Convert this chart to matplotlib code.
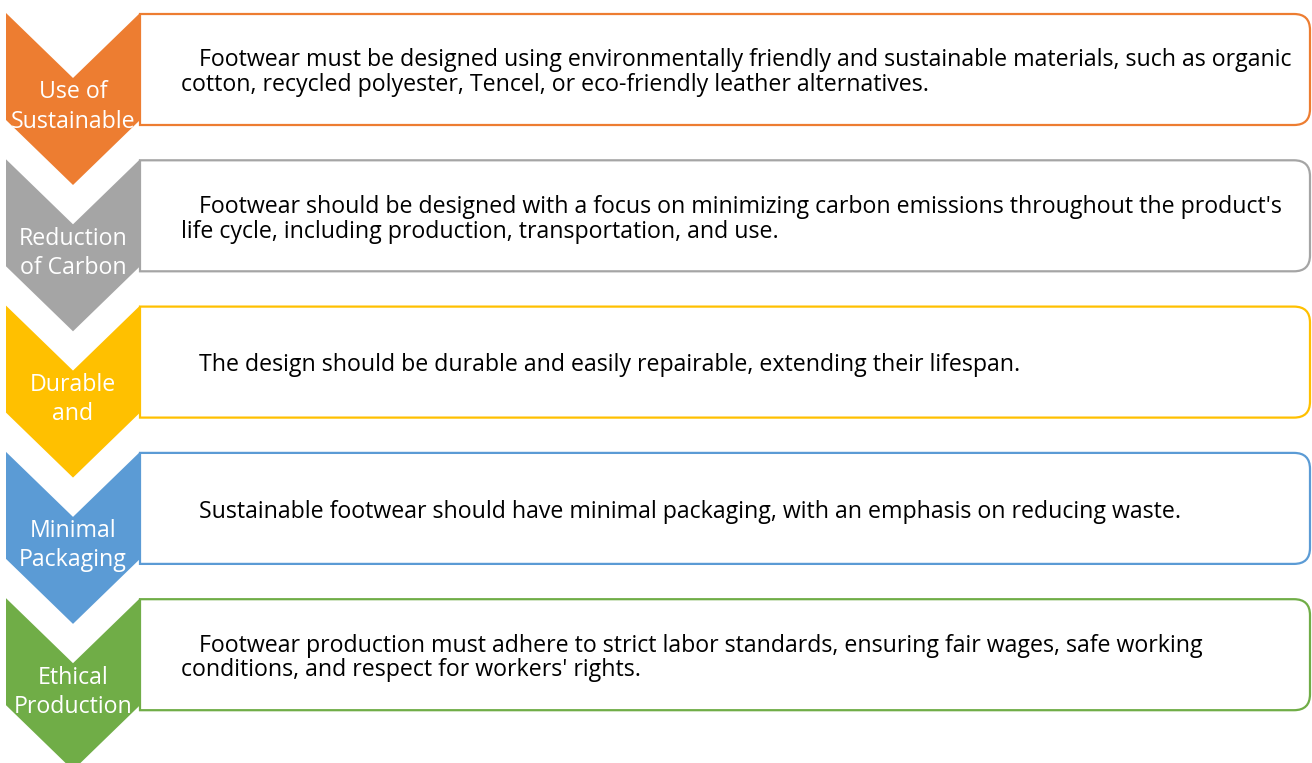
import matplotlib
matplotlib.use("Agg")
import matplotlib.pyplot as plt
from matplotlib.patches import Polygon, PathPatch, Rectangle
from matplotlib.path import Path

labels = [
    ["Use of", "Sustainable"],
    ["Reduction", "of Carbon"],
    ["Durable", "and"],
    ["Minimal", "Packaging"],
    ["Ethical", "Production"],
]
descriptions = [
    "   Footwear must be designed using environmentally friendly and sustainable materials, such as organic\ncotton, recycled polyester, Tencel, or eco-friendly leather alternatives.",
    "   Footwear should be designed with a focus on minimizing carbon emissions throughout the product's\nlife cycle, including production, transportation, and use.",
    "   The design should be durable and easily repairable, extending their lifespan.",
    "   Sustainable footwear should have minimal packaging, with an emphasis on reducing waste.",
    "   Footwear production must adhere to strict labor standards, ensuring fair wages, safe working\nconditions, and respect for workers' rights.",
]
colors = ["#ED7D31", "#A5A5A5", "#FFC000", "#5B9BD5", "#70AD47"]

W, H = 1312, 763
fig = plt.figure(figsize=(W / 100, H / 100), dpi=100)
ax = fig.add_axes([0, 0, 1, 1])
ax.set_xlim(0, W)
ax.set_ylim(H, 0)
ax.axis("off")

step = 146.3
top0 = 13
xl, xr, xm = 6, 140, 73
notch, shoulder, tip = 65, 107, 172
bx0, bx1, bh, r = 140, 1310, 111, 16
font = "Open Sans"
fs = 16.7
lh = 25

for i, (lab, desc, c) in enumerate(zip(labels, descriptions, colors)):
    y0 = top0 + step * i
    bt, bb = y0 + 1, y0 + 1 + bh
    verts = [(bx0, bt), (bx1 - r, bt), (bx1, bt), (bx1, bt + r), (bx1, bb - r),
             (bx1, bb), (bx1 - r, bb), (bx0, bb), (bx0, bt)]
    codes = [Path.MOVETO, Path.LINETO, Path.CURVE3, Path.CURVE3, Path.LINETO,
             Path.CURVE3, Path.CURVE3, Path.LINETO, Path.CLOSEPOLY]
    ax.add_patch(PathPatch(Path(verts, codes), facecolor="white", edgecolor=c, lw=1.6, zorder=2))
    chev = Polygon([(xl, y0), (xm, y0 + notch), (xr, y0), (xr, y0 + shoulder),
                    (xm, y0 + tip), (xl, y0 + shoulder)], closed=True,
                   facecolor=c, edgecolor="none", zorder=3)
    ax.add_patch(chev)
    clip = Rectangle((0, y0), 150, bb - y0 - 1, transform=ax.transData)
    for j, line in enumerate(lab):
        t = ax.text(xm, y0 + 85.5 + 29 * j, line, ha="center", va="baseline", color="white",
                    fontsize=fs, family=font, zorder=4)
        t.set_clip_path(clip)
    lines = desc.split("\n")
    n = len(lines)
    cy = (bt + bb) / 2
    for j, line in enumerate(lines):
        ax.text(181, cy + 9.3 + lh * (j - (n - 1) / 2), line, ha="left", va="baseline",
                color="black", fontsize=fs, family=font, zorder=4)

fig.savefig("out.png", dpi=100)
